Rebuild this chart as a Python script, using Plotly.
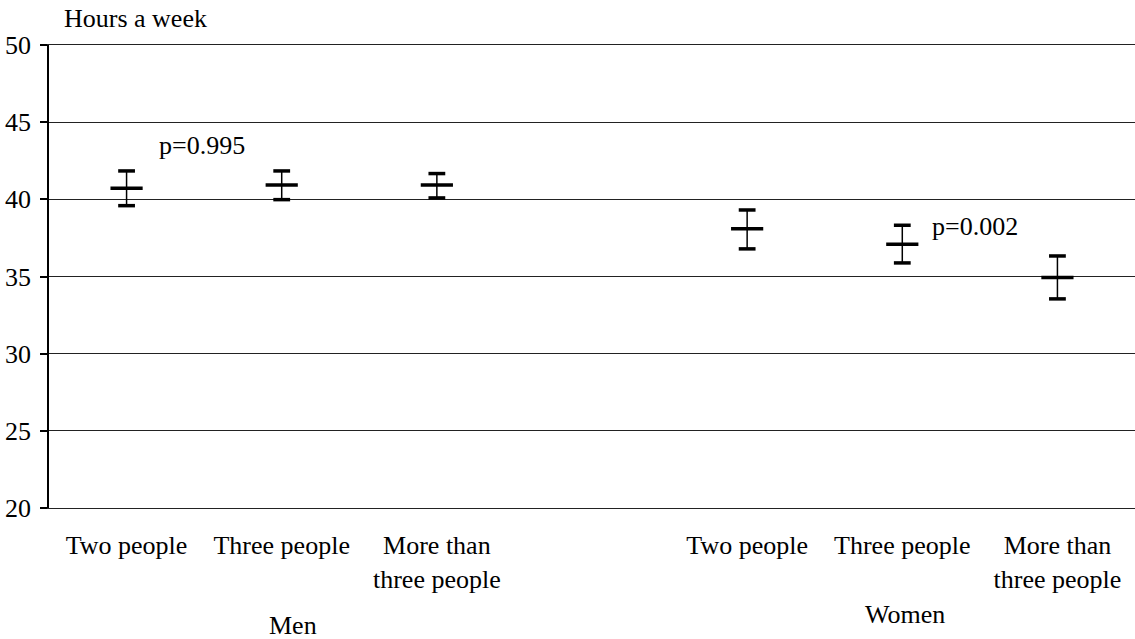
import plotly.graph_objects as go

# categories (slot 3 is the empty gap between the groups)
positions = [0, 1, 2, 4, 5, 6]
tick_labels = ["Two people", "Three people", "More than<br>three people",
               "Two people", "Three people", "More than<br>three people"]
groups = ["Men", "Women"]

# mean hours a week and confidence limits
means = [40.72, 40.93, 40.93, 38.10, 37.09, 34.93]
upper = [41.84, 41.84, 41.67, 39.31, 38.32, 36.33]
lower = [39.59, 39.98, 40.09, 36.79, 35.88, 33.55]

p_labels = ["p=0.995", "p=0.002"]

FONT = "Liberation Serif, Times New Roman, serif"
FS = 26

fig = go.Figure()

# whiskers
fig.add_trace(go.Scatter(
    x=positions, y=means, mode="markers",
    marker=dict(symbol="line-ew", size=23, line=dict(width=3.5, color="black"), color="black"),
    error_y=dict(type="data", symmetric=False,
                 array=[u - m for u, m in zip(upper, means)],
                 arrayminus=[m - l for m, l in zip(means, lower)],
                 width=0, thickness=1.5, color="black"),
    showlegend=False, hoverinfo="skip"))

# caps
fig.add_trace(go.Scatter(
    x=positions + positions, y=upper + lower, mode="markers",
    marker=dict(symbol="line-ew", size=12, line=dict(width=3.5, color="black"), color="black"),
    showlegend=False, hoverinfo="skip"))

fig.update_layout(
    width=1135, height=639,
    margin=dict(l=49, r=0, t=45, b=131, autoexpand=False),
    paper_bgcolor="white", plot_bgcolor="white",
    font=dict(family=FONT, size=FS, color="black"),
    xaxis=dict(range=[-0.5, 6.5], tickvals=positions, ticktext=tick_labels,
               showgrid=False, zeroline=False, showline=True, mirror=True,
               linecolor="#222222", linewidth=1.3, ticks="", automargin=False,
               ticklabelstandoff=14, tickfont=dict(size=FS)),
    yaxis=dict(range=[20, 50], tickvals=[20, 25, 30, 35, 40, 45, 50],
               showgrid=True, gridcolor="#222222", gridwidth=1.3, automargin=False,
               zeroline=False, showline=True, linecolor="black", linewidth=1.5,
               ticks="outside", ticklen=7, tickcolor="black", tickwidth=1.5,
               tickfont=dict(size=FS), ticklabelstandoff=4),
    annotations=[
        dict(text="Hours a week", xref="paper", yref="paper", x=0.012, y=1.058,
             xanchor="left", yanchor="middle", showarrow=False, font=dict(size=FS)),
        dict(text=p_labels[0], xref="x", yref="y", x=0.196, y=43.46,
             xanchor="left", yanchor="middle", showarrow=False, font=dict(size=FS)),
        dict(text=p_labels[1], xref="x", yref="y", x=5.18, y=38.23,
             xanchor="left", yanchor="middle", showarrow=False, font=dict(size=FS)),
        dict(text=groups[0], xref="x", yref="paper", x=1.07, y=-0.2527,
             xanchor="center", yanchor="middle", showarrow=False, font=dict(size=FS)),
        dict(text=groups[1], xref="x", yref="paper", x=5.02, y=-0.231,
             xanchor="center", yanchor="middle", showarrow=False, font=dict(size=FS)),
    ],
)

fig.write_html("out.html", config={"displayModeBar": False},
               post_script="document.body.style.margin='0';document.body.style.overflow='hidden';")
